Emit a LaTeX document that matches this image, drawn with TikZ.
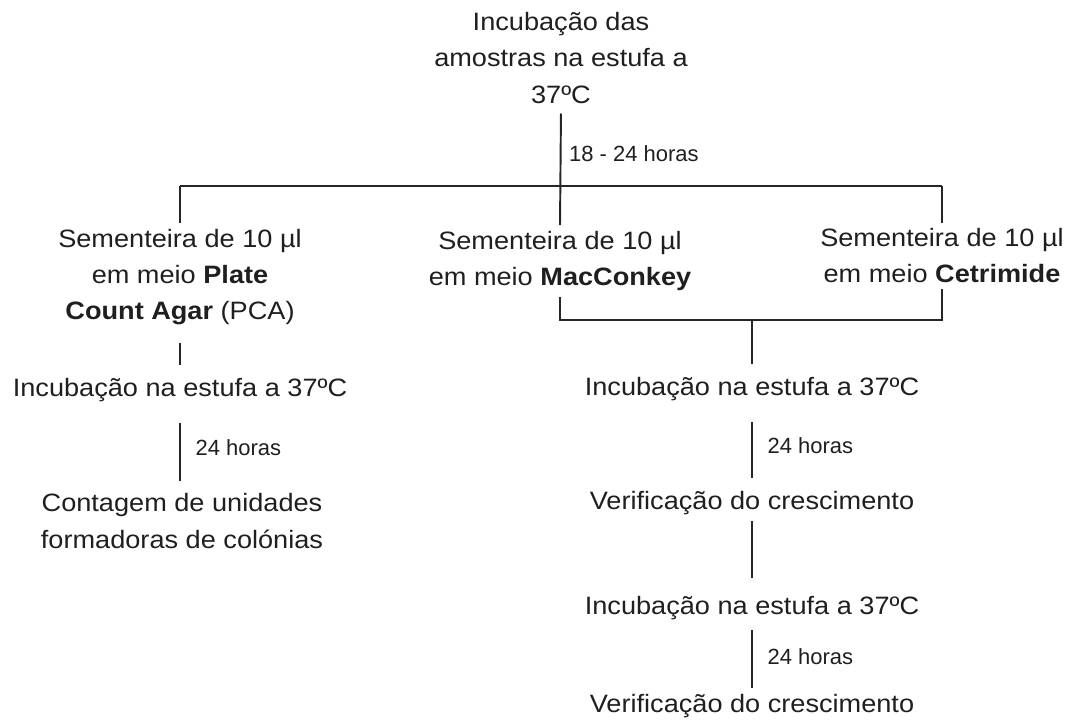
\documentclass[tikz,border=0pt]{standalone}
\usepackage{fontspec}
\setmainfont{Liberation Sans}[FakeStretch=1.08]
\newfontfamily\hoursfont{Liberation Sans}
\usepackage{tikz}
\usetikzlibrary{calc}

\begin{document}
\begin{tikzpicture}[x=0.2mm, y=-0.2mm,
		stage/.style={align=center, text=black!88, font=\fontsize{14.3}{20.5}\selectfont},
		hours/.style={right, xshift=5pt, text=black!88, font=\hoursfont\fontsize{12.5}{14}\selectfont},
		link/.style={line width=1.1pt, color=black!85}]
			%%%%% START %%%%%
			
			\useasboundingbox (0, 0) rectangle (1067, 720);
			
			\node[stage] (top) at (561, 58) {Incubação das\\amostras na estufa a\\37ºC};
			\coordinate (bar) at (561, 186);
			
			\node[stage] (semPCA) at (180, 277) {Sementeira de 10 µl\\em meio \textbf{Plate}\\\textbf{Count Agar} (PCA)};
			\node[stage] (semMac) at (560, 261) {Sementeira de 10 µl\\em meio \textbf{MacConkey}};
			\node[stage] (semCet) at (942, 256) {Sementeira de 10 µl\\em meio \textbf{Cetrimide}};
			
			\draw[link, shorten <=2.3pt] (top.south) -- (semMac.north) node[hours, xshift=-4pt, pos=0.38] {18 - 24 horas};
			\draw[link, line width=1.5pt] (semPCA.north |- bar) -- (semCet.north |- bar);
			\draw[link] (semPCA.north) -- (semPCA.north |- bar);
			\draw[link] (semCet.north) -- (semCet.north |- bar);
			
			%% left branch
			\node[stage] (incPCA) at (180, 390) {Incubação na estufa a 37ºC};
			\node[stage] (ufc) at (182, 521) {Contagem de unidades\\formadoras de colónias};
			
			\draw[link, shorten <=7pt, shorten >=4pt] (semPCA.south) -- (semPCA.south |- incPCA.north);
			\draw[link, shorten <=8.5pt, shorten >=4pt] (semPCA.south |- incPCA.south) -- (semPCA.south |- ufc.north) node[hours, midway] {24 horas};
			
			%% right branch
			\coordinate (brk) at (752, 320);
			\node[stage] (incA) at (752, 389) {Incubação na estufa a 37ºC};
			\node[stage] (verA) at (752, 503) {Verificação do crescimento};
			\node[stage] (incB) at (752, 608) {Incubação na estufa a 37ºC};
			\node[stage] (verB) at (752, 706) {Verificação do crescimento};
			
			\draw[link] (semMac.south) -- (semMac.south |- brk) -- (semCet.south |- brk) -- (semCet.south);
			\draw[link, shorten >=4pt] (brk) -- (incA.north);
			\draw[link, shorten <=8.5pt, shorten >=4pt] (incA.south) -- (verA.north) node[hours, midway] {24 horas};
			\draw[link, shorten >=7pt] (verA.south) -- (incB.north);
			\draw[link, shorten <=2.3pt] (incB.south) -- (verB.north) node[hours, midway] {24 horas};
			
			%%%%% END %%%%%
\end{tikzpicture}
\end{document}
